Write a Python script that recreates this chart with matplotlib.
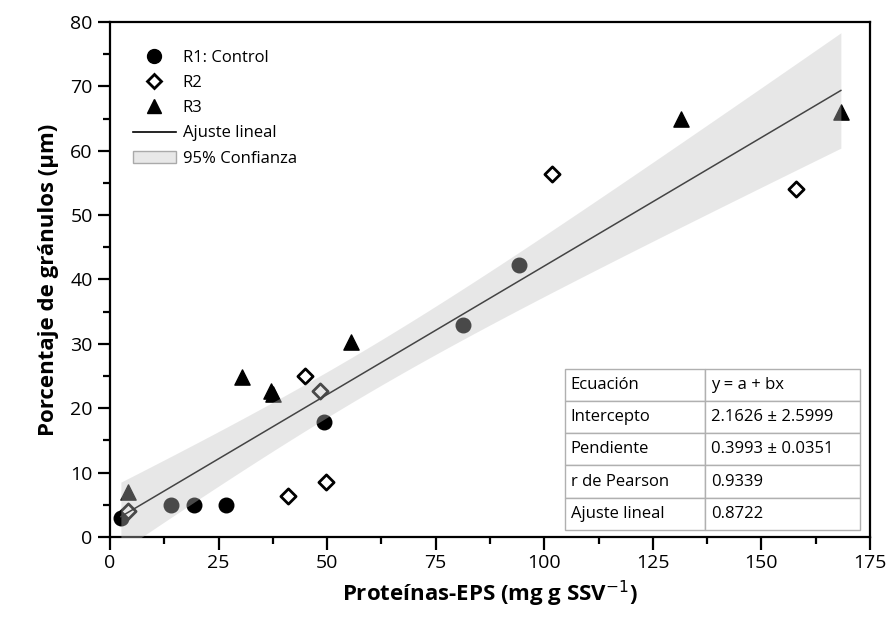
import numpy as np
import matplotlib
matplotlib.use("Agg")
import matplotlib.pyplot as plt
from matplotlib.ticker import MultipleLocator
from matplotlib.patches import Patch
from matplotlib.lines import Line2D

plt.rcParams['font.family'] = ['Open Sans', 'DejaVu Sans']

# datos
r1_x = [2.5, 14.0, 19.3, 26.7, 49.3, 81.3, 94.2]
r1_y = [2.9, 5.0, 4.9, 4.9, 17.9, 32.9, 42.2]
r2_x = [4.1, 41.0, 44.9, 48.4, 49.7, 101.8, 158.0]
r2_y = [4.0, 6.3, 25.0, 22.7, 8.5, 56.4, 54.0]
r3_x = [4.1, 30.4, 37.0, 37.5, 55.5, 131.5, 168.3]
r3_y = [7.0, 24.8, 22.6, 22.2, 30.3, 65.0, 66.0]

intercept = 2.1626
slope = 0.3993
t_crit = 2.093  # t(0.975, 19)

tabla_filas = [
    ["Ecuación", "y = a + bx"],
    ["Intercepto", "2.1626 ± 2.5999"],
    ["Pendiente", "0.3993 ± 0.0351"],
    ["r de Pearson", "0.9339"],
    ["Ajuste lineal", "0.8722"],
]

fig = plt.figure(figsize=(8.88, 6.21), dpi=100)
ax = fig.add_axes([0.1239, 0.1353, 0.8558, 0.8293])

ax.scatter(r1_x, r1_y, marker='o', s=110, color='black', zorder=2)
ax.scatter(r2_x, r2_y, marker='D', s=60, facecolor='white', edgecolor='black',
           linewidths=2, zorder=2)
ax.scatter(r3_x, r3_y, marker='^', s=120, color='black', zorder=2)

# banda de confianza 95% a partir de los datos
x_all = np.array(r1_x + r2_x + r3_x)
y_all = np.array(r1_y + r2_y + r3_y)
n = len(x_all)
resid = y_all - (intercept + slope * x_all)
s = np.sqrt(np.sum(resid ** 2) / (n - 2))
xm = x_all.mean()
sxx = np.sum((x_all - xm) ** 2)
xf = np.linspace(x_all.min(), x_all.max(), 200)
yf = intercept + slope * xf
half = t_crit * s * np.sqrt(1.0 / n + (xf - xm) ** 2 / sxx)
ax.fill_between(xf, yf - half, yf + half, color=(0.76, 0.76, 0.76), alpha=0.38,
                linewidth=0, zorder=3)
ax.plot(xf, yf, color='#444444', linewidth=1.1, zorder=4)

ax.set_xlim(0, 175)
ax.set_ylim(0, 80)
ax.xaxis.set_major_locator(MultipleLocator(25))
ax.xaxis.set_minor_locator(MultipleLocator(12.5))
ax.yaxis.set_major_locator(MultipleLocator(10))
ax.yaxis.set_minor_locator(MultipleLocator(5))
ax.tick_params(which='major', length=9, width=1.6, labelsize=14, direction='out')
ax.tick_params(which='minor', length=5, width=1.6, direction='out')
ax.tick_params(top=False, right=False, which='both')
for sp in ax.spines.values():
    sp.set_linewidth(1.6)

ax.set_xlabel("Proteínas-EPS (mg g SSV$^{-1}$)", fontsize=16, fontweight='bold', labelpad=5)
ax.set_ylabel("Porcentaje de gránulos (μm)", fontsize=16, fontweight='bold', labelpad=8)

handles = [
    Line2D([], [], marker='o', linestyle='none', color='black', markersize=10),
    Line2D([], [], marker='D', linestyle='none', markerfacecolor='white',
           markeredgecolor='black', markeredgewidth=2, markersize=7),
    Line2D([], [], marker='^', linestyle='none', color='black', markersize=10),
    Line2D([], [], color='black', linewidth=1.2),
    Patch(facecolor='#e8e8e8', edgecolor='#aaaaaa'),
]
labels = ["R1: Control", "R2", "R3", "Ajuste lineal", "95% Confianza"]
ax.legend(handles, labels, loc='upper left', frameon=False, fontsize=12,
          bbox_to_anchor=(0.01, 0.975), handlelength=2.6, labelspacing=0.55,
          handletextpad=0.4)

tab = ax.table(cellText=tabla_filas, cellLoc='left', colWidths=[0.475, 0.525],
               bbox=[0.599, 0.014, 0.388, 0.312], zorder=5)
tab.auto_set_font_size(False)
tab.set_fontsize(12)
for cell in tab.get_celld().values():
    cell.set_edgecolor('#b0b0b0')
    cell.set_linewidth(1.0)
    cell.set_facecolor('white')
    cell.PAD = 0.04

fig.savefig("out.png", dpi=100)
